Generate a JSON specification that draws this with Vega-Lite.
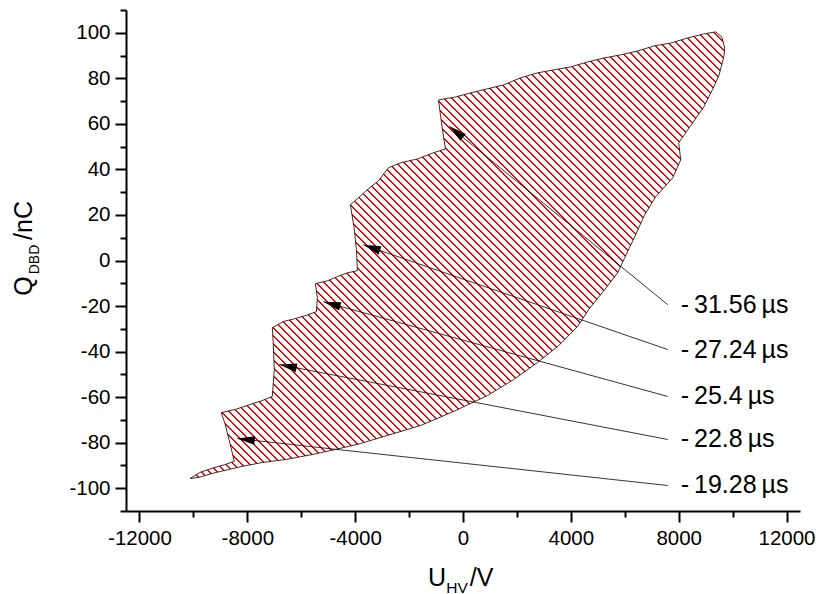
{
"$schema":"https://vega.github.io/schema/vega-lite/v6.json",
"width":674,"height":501,
"autosize":{"type":"none"},
"padding":{"left":126,"top":10,"right":16,"bottom":83},
"background":"white",
"config":{"view":{"stroke":null}},
"datasets":{
"loop":[
{"i":1,"u":-10118,"q":-95.7},{"i":2,"u":-9747,"q":-93.0},{"i":3,"u":-9301,"q":-91.2},{"i":4,"u":-8818,"q":-89.6},{"i":5,"u":-8484,"q":-88.2},{"i":6,"u":-8633,"q":-80.8},{"i":7,"u":-8818,"q":-72.0},{"i":8,"u":-8967,"q":-66.8},{"i":9,"u":-8447,"q":-65.4},{"i":10,"u":-7890,"q":-63.2},{"i":11,"u":-7445,"q":-61.5},{"i":12,"u":-7073,"q":-59.7},{"i":13,"u":-6999,"q":-47.9},{"i":14,"u":-7036,"q":-36.9},{"i":15,"u":-7073,"q":-29.5},{"i":16,"u":-6665,"q":-26.8},{"i":17,"u":-6219,"q":-25.5},{"i":18,"u":-5848,"q":-24.2},{"i":19,"u":-5439,"q":-22.5},{"i":20,"u":-5402,"q":-16.3},{"i":21,"u":-5477,"q":-10.2},{"i":22,"u":-5031,"q":-8.9},{"i":23,"u":-4660,"q":-7.1},{"i":24,"u":-4289,"q":-5.4},{"i":25,"u":-3917,"q":-4.5},{"i":26,"u":-3954,"q":4.7},{"i":27,"u":-4029,"q":13.5},{"i":28,"u":-4177,"q":24.5},{"i":29,"u":-3880,"q":27.5},{"i":30,"u":-3546,"q":31.1},{"i":31,"u":-3137,"q":35.0},{"i":32,"u":-2766,"q":40.7},{"i":33,"u":-2321,"q":42.9},{"i":34,"u":-1689,"q":44.6},{"i":35,"u":-1095,"q":47.3},{"i":36,"u":-650,"q":49.0},{"i":37,"u":-761,"q":57.4},{"i":38,"u":-835,"q":63.9},{"i":39,"u":-910,"q":70.5},{"i":40,"u":-278,"q":71.8},{"i":41,"u":278,"q":73.6},{"i":42,"u":910,"q":75.4},{"i":43,"u":1504,"q":77.1},{"i":44,"u":2135,"q":80.2},{"i":45,"u":2766,"q":82.4},{"i":46,"u":3360,"q":83.7},{"i":47,"u":3991,"q":85.0},{"i":48,"u":4623,"q":87.2},{"i":49,"u":5217,"q":88.9},{"i":50,"u":5848,"q":90.3},{"i":51,"u":6479,"q":92.0},{"i":52,"u":7073,"q":94.2},{"i":53,"u":7704,"q":95.5},{"i":54,"u":8336,"q":97.7},{"i":55,"u":8930,"q":99.5},{"i":56,"u":9375,"q":100.4},{"i":57,"u":9598,"q":98.2},{"i":58,"u":9709,"q":93.3},{"i":59,"u":9672,"q":89.4},{"i":60,"u":9500,"q":81.5},{"i":61,"u":9301,"q":76.2},{"i":62,"u":8930,"q":67.4},{"i":63,"u":8336,"q":57.4},{"i":64,"u":8002,"q":51.7},{"i":65,"u":8076,"q":44.2},{"i":66,"u":7778,"q":36.3},{"i":67,"u":7148,"q":28.0},{"i":68,"u":6739,"q":20.1},{"i":69,"u":6368,"q":10.4},{"i":70,"u":5996,"q":1.2},{"i":71,"u":5737,"q":-5.4},{"i":72,"u":5254,"q":-12.8},{"i":73,"u":4660,"q":-21.6},{"i":74,"u":4251,"q":-29.0},{"i":75,"u":3546,"q":-37.4},{"i":76,"u":2766,"q":-44.8},{"i":77,"u":1875,"q":-52.3},{"i":78,"u":910,"q":-59.3},{"i":79,"u":-353,"q":-66.3},{"i":80,"u":-1578,"q":-72.5},{"i":81,"u":-2803,"q":-76.8},{"i":82,"u":-3806,"q":-80.4},{"i":83,"u":-4734,"q":-83.0},{"i":84,"u":-5588,"q":-85.2},{"i":85,"u":-6591,"q":-87.4},{"i":86,"u":-7445,"q":-88.7},{"i":87,"u":-8187,"q":-90.4},{"i":88,"u":-8707,"q":-91.8},{"i":89,"u":-9301,"q":-93.5},{"i":90,"u":-9821,"q":-95.3}
],
"notes":[
{"t":"-\u200931.56\u2009µs","u0":7593,"q0":-19.4,"u":-501,"q":58.9},
{"t":"-\u200927.24\u2009µs","u0":7593,"q0":-39.1,"u":-3694,"q":6.9},
{"t":"-\u200925.4\u2009µs","u0":7593,"q0":-59.7,"u":-5180,"q":-18.1},
{"t":"-\u200922.8\u2009µs","u0":7593,"q0":-78.6,"u":-6813,"q":-45.7},
{"t":"-\u200919.28\u2009µs","u0":7593,"q0":-98.8,"u":-8373,"q":-78.2}
]
},
"resolve":{"axis":{"x":"independent","y":"independent"}},
"layer":[
{
"data":{"name":"loop"},
"mark":{"type":"line","interpolate":"linear-closed","stroke":"black","strokeWidth":0.8,"strokeJoin":"round",
"fill":{"gradient":"linear","x1":-0.051,"y1":0.9602,"x2":1.051,"y2":0.0398,"stops":[
{"offset":0.002,"color":"#fff"},{"offset":0.0023,"color":"red"},{"offset":0.0041,"color":"red"},{"offset":0.0044,"color":"#fff"},
{"offset":0.010,"color":"#fff"},{"offset":0.0103,"color":"red"},{"offset":0.0121,"color":"red"},{"offset":0.0124,"color":"#fff"},
{"offset":0.018,"color":"#fff"},{"offset":0.0183,"color":"red"},{"offset":0.0201,"color":"red"},{"offset":0.0204,"color":"#fff"},
{"offset":0.026,"color":"#fff"},{"offset":0.0263,"color":"red"},{"offset":0.0281,"color":"red"},{"offset":0.0284,"color":"#fff"},
{"offset":0.034,"color":"#fff"},{"offset":0.0343,"color":"red"},{"offset":0.0361,"color":"red"},{"offset":0.0364,"color":"#fff"},
{"offset":0.042,"color":"#fff"},{"offset":0.0423,"color":"red"},{"offset":0.0441,"color":"red"},{"offset":0.0444,"color":"#fff"},
{"offset":0.050,"color":"#fff"},{"offset":0.0503,"color":"red"},{"offset":0.0521,"color":"red"},{"offset":0.0524,"color":"#fff"},
{"offset":0.058,"color":"#fff"},{"offset":0.0583,"color":"red"},{"offset":0.0601,"color":"red"},{"offset":0.0604,"color":"#fff"},
{"offset":0.066,"color":"#fff"},{"offset":0.0663,"color":"red"},{"offset":0.0681,"color":"red"},{"offset":0.0684,"color":"#fff"},
{"offset":0.074,"color":"#fff"},{"offset":0.0743,"color":"red"},{"offset":0.0761,"color":"red"},{"offset":0.0764,"color":"#fff"},
{"offset":0.082,"color":"#fff"},{"offset":0.0823,"color":"red"},{"offset":0.0841,"color":"red"},{"offset":0.0844,"color":"#fff"},
{"offset":0.090,"color":"#fff"},{"offset":0.0903,"color":"red"},{"offset":0.0921,"color":"red"},{"offset":0.0924,"color":"#fff"},
{"offset":0.098,"color":"#fff"},{"offset":0.0983,"color":"red"},{"offset":0.1001,"color":"red"},{"offset":0.1004,"color":"#fff"},
{"offset":0.106,"color":"#fff"},{"offset":0.1063,"color":"red"},{"offset":0.1081,"color":"red"},{"offset":0.1084,"color":"#fff"},
{"offset":0.114,"color":"#fff"},{"offset":0.1143,"color":"red"},{"offset":0.1161,"color":"red"},{"offset":0.1164,"color":"#fff"},
{"offset":0.122,"color":"#fff"},{"offset":0.1223,"color":"red"},{"offset":0.1241,"color":"red"},{"offset":0.1244,"color":"#fff"},
{"offset":0.130,"color":"#fff"},{"offset":0.1303,"color":"red"},{"offset":0.1321,"color":"red"},{"offset":0.1324,"color":"#fff"},
{"offset":0.138,"color":"#fff"},{"offset":0.1383,"color":"red"},{"offset":0.1401,"color":"red"},{"offset":0.1404,"color":"#fff"},
{"offset":0.146,"color":"#fff"},{"offset":0.1463,"color":"red"},{"offset":0.1481,"color":"red"},{"offset":0.1484,"color":"#fff"},
{"offset":0.154,"color":"#fff"},{"offset":0.1543,"color":"red"},{"offset":0.1561,"color":"red"},{"offset":0.1564,"color":"#fff"},
{"offset":0.162,"color":"#fff"},{"offset":0.1623,"color":"red"},{"offset":0.1641,"color":"red"},{"offset":0.1644,"color":"#fff"},
{"offset":0.170,"color":"#fff"},{"offset":0.1703,"color":"red"},{"offset":0.1721,"color":"red"},{"offset":0.1724,"color":"#fff"},
{"offset":0.178,"color":"#fff"},{"offset":0.1783,"color":"red"},{"offset":0.1801,"color":"red"},{"offset":0.1804,"color":"#fff"},
{"offset":0.186,"color":"#fff"},{"offset":0.1863,"color":"red"},{"offset":0.1881,"color":"red"},{"offset":0.1884,"color":"#fff"},
{"offset":0.194,"color":"#fff"},{"offset":0.1943,"color":"red"},{"offset":0.1961,"color":"red"},{"offset":0.1964,"color":"#fff"},
{"offset":0.202,"color":"#fff"},{"offset":0.2023,"color":"red"},{"offset":0.2041,"color":"red"},{"offset":0.2044,"color":"#fff"},
{"offset":0.210,"color":"#fff"},{"offset":0.2103,"color":"red"},{"offset":0.2121,"color":"red"},{"offset":0.2124,"color":"#fff"},
{"offset":0.218,"color":"#fff"},{"offset":0.2183,"color":"red"},{"offset":0.2201,"color":"red"},{"offset":0.2204,"color":"#fff"},
{"offset":0.226,"color":"#fff"},{"offset":0.2263,"color":"red"},{"offset":0.2281,"color":"red"},{"offset":0.2284,"color":"#fff"},
{"offset":0.234,"color":"#fff"},{"offset":0.2343,"color":"red"},{"offset":0.2361,"color":"red"},{"offset":0.2364,"color":"#fff"},
{"offset":0.242,"color":"#fff"},{"offset":0.2423,"color":"red"},{"offset":0.2441,"color":"red"},{"offset":0.2444,"color":"#fff"},
{"offset":0.250,"color":"#fff"},{"offset":0.2503,"color":"red"},{"offset":0.2521,"color":"red"},{"offset":0.2524,"color":"#fff"},
{"offset":0.258,"color":"#fff"},{"offset":0.2583,"color":"red"},{"offset":0.2601,"color":"red"},{"offset":0.2604,"color":"#fff"},
{"offset":0.266,"color":"#fff"},{"offset":0.2663,"color":"red"},{"offset":0.2681,"color":"red"},{"offset":0.2684,"color":"#fff"},
{"offset":0.274,"color":"#fff"},{"offset":0.2743,"color":"red"},{"offset":0.2761,"color":"red"},{"offset":0.2764,"color":"#fff"},
{"offset":0.282,"color":"#fff"},{"offset":0.2823,"color":"red"},{"offset":0.2841,"color":"red"},{"offset":0.2844,"color":"#fff"},
{"offset":0.290,"color":"#fff"},{"offset":0.2903,"color":"red"},{"offset":0.2921,"color":"red"},{"offset":0.2924,"color":"#fff"},
{"offset":0.298,"color":"#fff"},{"offset":0.2983,"color":"red"},{"offset":0.3001,"color":"red"},{"offset":0.3004,"color":"#fff"},
{"offset":0.306,"color":"#fff"},{"offset":0.3063,"color":"red"},{"offset":0.3081,"color":"red"},{"offset":0.3084,"color":"#fff"},
{"offset":0.314,"color":"#fff"},{"offset":0.3143,"color":"red"},{"offset":0.3161,"color":"red"},{"offset":0.3164,"color":"#fff"},
{"offset":0.322,"color":"#fff"},{"offset":0.3223,"color":"red"},{"offset":0.3241,"color":"red"},{"offset":0.3244,"color":"#fff"},
{"offset":0.330,"color":"#fff"},{"offset":0.3303,"color":"red"},{"offset":0.3321,"color":"red"},{"offset":0.3324,"color":"#fff"},
{"offset":0.338,"color":"#fff"},{"offset":0.3383,"color":"red"},{"offset":0.3401,"color":"red"},{"offset":0.3404,"color":"#fff"},
{"offset":0.346,"color":"#fff"},{"offset":0.3463,"color":"red"},{"offset":0.3481,"color":"red"},{"offset":0.3484,"color":"#fff"},
{"offset":0.354,"color":"#fff"},{"offset":0.3543,"color":"red"},{"offset":0.3561,"color":"red"},{"offset":0.3564,"color":"#fff"},
{"offset":0.362,"color":"#fff"},{"offset":0.3623,"color":"red"},{"offset":0.3641,"color":"red"},{"offset":0.3644,"color":"#fff"},
{"offset":0.370,"color":"#fff"},{"offset":0.3703,"color":"red"},{"offset":0.3721,"color":"red"},{"offset":0.3724,"color":"#fff"},
{"offset":0.378,"color":"#fff"},{"offset":0.3783,"color":"red"},{"offset":0.3801,"color":"red"},{"offset":0.3804,"color":"#fff"},
{"offset":0.386,"color":"#fff"},{"offset":0.3863,"color":"red"},{"offset":0.3881,"color":"red"},{"offset":0.3884,"color":"#fff"},
{"offset":0.394,"color":"#fff"},{"offset":0.3943,"color":"red"},{"offset":0.3961,"color":"red"},{"offset":0.3964,"color":"#fff"},
{"offset":0.402,"color":"#fff"},{"offset":0.4023,"color":"red"},{"offset":0.4041,"color":"red"},{"offset":0.4044,"color":"#fff"},
{"offset":0.410,"color":"#fff"},{"offset":0.4103,"color":"red"},{"offset":0.4121,"color":"red"},{"offset":0.4124,"color":"#fff"},
{"offset":0.418,"color":"#fff"},{"offset":0.4183,"color":"red"},{"offset":0.4201,"color":"red"},{"offset":0.4204,"color":"#fff"},
{"offset":0.426,"color":"#fff"},{"offset":0.4263,"color":"red"},{"offset":0.4281,"color":"red"},{"offset":0.4284,"color":"#fff"},
{"offset":0.434,"color":"#fff"},{"offset":0.4343,"color":"red"},{"offset":0.4361,"color":"red"},{"offset":0.4364,"color":"#fff"},
{"offset":0.442,"color":"#fff"},{"offset":0.4423,"color":"red"},{"offset":0.4441,"color":"red"},{"offset":0.4444,"color":"#fff"},
{"offset":0.450,"color":"#fff"},{"offset":0.4503,"color":"red"},{"offset":0.4521,"color":"red"},{"offset":0.4524,"color":"#fff"},
{"offset":0.458,"color":"#fff"},{"offset":0.4583,"color":"red"},{"offset":0.4601,"color":"red"},{"offset":0.4604,"color":"#fff"},
{"offset":0.466,"color":"#fff"},{"offset":0.4663,"color":"red"},{"offset":0.4681,"color":"red"},{"offset":0.4684,"color":"#fff"},
{"offset":0.474,"color":"#fff"},{"offset":0.4743,"color":"red"},{"offset":0.4761,"color":"red"},{"offset":0.4764,"color":"#fff"},
{"offset":0.482,"color":"#fff"},{"offset":0.4823,"color":"red"},{"offset":0.4841,"color":"red"},{"offset":0.4844,"color":"#fff"},
{"offset":0.490,"color":"#fff"},{"offset":0.4903,"color":"red"},{"offset":0.4921,"color":"red"},{"offset":0.4924,"color":"#fff"},
{"offset":0.498,"color":"#fff"},{"offset":0.4983,"color":"red"},{"offset":0.5001,"color":"red"},{"offset":0.5004,"color":"#fff"},
{"offset":0.506,"color":"#fff"},{"offset":0.5063,"color":"red"},{"offset":0.5081,"color":"red"},{"offset":0.5084,"color":"#fff"},
{"offset":0.514,"color":"#fff"},{"offset":0.5143,"color":"red"},{"offset":0.5161,"color":"red"},{"offset":0.5164,"color":"#fff"},
{"offset":0.522,"color":"#fff"},{"offset":0.5223,"color":"red"},{"offset":0.5241,"color":"red"},{"offset":0.5244,"color":"#fff"},
{"offset":0.530,"color":"#fff"},{"offset":0.5303,"color":"red"},{"offset":0.5321,"color":"red"},{"offset":0.5324,"color":"#fff"},
{"offset":0.538,"color":"#fff"},{"offset":0.5383,"color":"red"},{"offset":0.5401,"color":"red"},{"offset":0.5404,"color":"#fff"},
{"offset":0.546,"color":"#fff"},{"offset":0.5463,"color":"red"},{"offset":0.5481,"color":"red"},{"offset":0.5484,"color":"#fff"},
{"offset":0.554,"color":"#fff"},{"offset":0.5543,"color":"red"},{"offset":0.5561,"color":"red"},{"offset":0.5564,"color":"#fff"},
{"offset":0.562,"color":"#fff"},{"offset":0.5623,"color":"red"},{"offset":0.5641,"color":"red"},{"offset":0.5644,"color":"#fff"},
{"offset":0.570,"color":"#fff"},{"offset":0.5703,"color":"red"},{"offset":0.5721,"color":"red"},{"offset":0.5724,"color":"#fff"},
{"offset":0.578,"color":"#fff"},{"offset":0.5783,"color":"red"},{"offset":0.5801,"color":"red"},{"offset":0.5804,"color":"#fff"},
{"offset":0.586,"color":"#fff"},{"offset":0.5863,"color":"red"},{"offset":0.5881,"color":"red"},{"offset":0.5884,"color":"#fff"},
{"offset":0.594,"color":"#fff"},{"offset":0.5943,"color":"red"},{"offset":0.5961,"color":"red"},{"offset":0.5964,"color":"#fff"},
{"offset":0.602,"color":"#fff"},{"offset":0.6023,"color":"red"},{"offset":0.6041,"color":"red"},{"offset":0.6044,"color":"#fff"},
{"offset":0.610,"color":"#fff"},{"offset":0.6103,"color":"red"},{"offset":0.6121,"color":"red"},{"offset":0.6124,"color":"#fff"},
{"offset":0.618,"color":"#fff"},{"offset":0.6183,"color":"red"},{"offset":0.6201,"color":"red"},{"offset":0.6204,"color":"#fff"},
{"offset":0.626,"color":"#fff"},{"offset":0.6263,"color":"red"},{"offset":0.6281,"color":"red"},{"offset":0.6284,"color":"#fff"},
{"offset":0.634,"color":"#fff"},{"offset":0.6343,"color":"red"},{"offset":0.6361,"color":"red"},{"offset":0.6364,"color":"#fff"},
{"offset":0.642,"color":"#fff"},{"offset":0.6423,"color":"red"},{"offset":0.6441,"color":"red"},{"offset":0.6444,"color":"#fff"},
{"offset":0.650,"color":"#fff"},{"offset":0.6503,"color":"red"},{"offset":0.6521,"color":"red"},{"offset":0.6524,"color":"#fff"},
{"offset":0.658,"color":"#fff"},{"offset":0.6583,"color":"red"},{"offset":0.6601,"color":"red"},{"offset":0.6604,"color":"#fff"},
{"offset":0.666,"color":"#fff"},{"offset":0.6663,"color":"red"},{"offset":0.6681,"color":"red"},{"offset":0.6684,"color":"#fff"},
{"offset":0.674,"color":"#fff"},{"offset":0.6743,"color":"red"},{"offset":0.6761,"color":"red"},{"offset":0.6764,"color":"#fff"},
{"offset":0.682,"color":"#fff"},{"offset":0.6823,"color":"red"},{"offset":0.6841,"color":"red"},{"offset":0.6844,"color":"#fff"},
{"offset":0.690,"color":"#fff"},{"offset":0.6903,"color":"red"},{"offset":0.6921,"color":"red"},{"offset":0.6924,"color":"#fff"},
{"offset":0.698,"color":"#fff"},{"offset":0.6983,"color":"red"},{"offset":0.7001,"color":"red"},{"offset":0.7004,"color":"#fff"},
{"offset":0.706,"color":"#fff"},{"offset":0.7063,"color":"red"},{"offset":0.7081,"color":"red"},{"offset":0.7084,"color":"#fff"},
{"offset":0.714,"color":"#fff"},{"offset":0.7143,"color":"red"},{"offset":0.7161,"color":"red"},{"offset":0.7164,"color":"#fff"},
{"offset":0.722,"color":"#fff"},{"offset":0.7223,"color":"red"},{"offset":0.7241,"color":"red"},{"offset":0.7244,"color":"#fff"},
{"offset":0.730,"color":"#fff"},{"offset":0.7303,"color":"red"},{"offset":0.7321,"color":"red"},{"offset":0.7324,"color":"#fff"},
{"offset":0.738,"color":"#fff"},{"offset":0.7383,"color":"red"},{"offset":0.7401,"color":"red"},{"offset":0.7404,"color":"#fff"},
{"offset":0.746,"color":"#fff"},{"offset":0.7463,"color":"red"},{"offset":0.7481,"color":"red"},{"offset":0.7484,"color":"#fff"},
{"offset":0.754,"color":"#fff"},{"offset":0.7543,"color":"red"},{"offset":0.7561,"color":"red"},{"offset":0.7564,"color":"#fff"},
{"offset":0.762,"color":"#fff"},{"offset":0.7623,"color":"red"},{"offset":0.7641,"color":"red"},{"offset":0.7644,"color":"#fff"},
{"offset":0.770,"color":"#fff"},{"offset":0.7703,"color":"red"},{"offset":0.7721,"color":"red"},{"offset":0.7724,"color":"#fff"},
{"offset":0.778,"color":"#fff"},{"offset":0.7783,"color":"red"},{"offset":0.7801,"color":"red"},{"offset":0.7804,"color":"#fff"},
{"offset":0.786,"color":"#fff"},{"offset":0.7863,"color":"red"},{"offset":0.7881,"color":"red"},{"offset":0.7884,"color":"#fff"},
{"offset":0.794,"color":"#fff"},{"offset":0.7943,"color":"red"},{"offset":0.7961,"color":"red"},{"offset":0.7964,"color":"#fff"},
{"offset":0.802,"color":"#fff"},{"offset":0.8023,"color":"red"},{"offset":0.8041,"color":"red"},{"offset":0.8044,"color":"#fff"},
{"offset":0.810,"color":"#fff"},{"offset":0.8103,"color":"red"},{"offset":0.8121,"color":"red"},{"offset":0.8124,"color":"#fff"},
{"offset":0.818,"color":"#fff"},{"offset":0.8183,"color":"red"},{"offset":0.8201,"color":"red"},{"offset":0.8204,"color":"#fff"},
{"offset":0.826,"color":"#fff"},{"offset":0.8263,"color":"red"},{"offset":0.8281,"color":"red"},{"offset":0.8284,"color":"#fff"},
{"offset":0.834,"color":"#fff"},{"offset":0.8343,"color":"red"},{"offset":0.8361,"color":"red"},{"offset":0.8364,"color":"#fff"},
{"offset":0.842,"color":"#fff"},{"offset":0.8423,"color":"red"},{"offset":0.8441,"color":"red"},{"offset":0.8444,"color":"#fff"},
{"offset":0.850,"color":"#fff"},{"offset":0.8503,"color":"red"},{"offset":0.8521,"color":"red"},{"offset":0.8524,"color":"#fff"},
{"offset":0.858,"color":"#fff"},{"offset":0.8583,"color":"red"},{"offset":0.8601,"color":"red"},{"offset":0.8604,"color":"#fff"},
{"offset":0.866,"color":"#fff"},{"offset":0.8663,"color":"red"},{"offset":0.8681,"color":"red"},{"offset":0.8684,"color":"#fff"},
{"offset":0.874,"color":"#fff"},{"offset":0.8743,"color":"red"},{"offset":0.8761,"color":"red"},{"offset":0.8764,"color":"#fff"},
{"offset":0.882,"color":"#fff"},{"offset":0.8823,"color":"red"},{"offset":0.8841,"color":"red"},{"offset":0.8844,"color":"#fff"},
{"offset":0.890,"color":"#fff"},{"offset":0.8903,"color":"red"},{"offset":0.8921,"color":"red"},{"offset":0.8924,"color":"#fff"},
{"offset":0.898,"color":"#fff"},{"offset":0.8983,"color":"red"},{"offset":0.9001,"color":"red"},{"offset":0.9004,"color":"#fff"},
{"offset":0.906,"color":"#fff"},{"offset":0.9063,"color":"red"},{"offset":0.9081,"color":"red"},{"offset":0.9084,"color":"#fff"},
{"offset":0.914,"color":"#fff"},{"offset":0.9143,"color":"red"},{"offset":0.9161,"color":"red"},{"offset":0.9164,"color":"#fff"},
{"offset":0.922,"color":"#fff"},{"offset":0.9223,"color":"red"},{"offset":0.9241,"color":"red"},{"offset":0.9244,"color":"#fff"},
{"offset":0.930,"color":"#fff"},{"offset":0.9303,"color":"red"},{"offset":0.9321,"color":"red"},{"offset":0.9324,"color":"#fff"},
{"offset":0.938,"color":"#fff"},{"offset":0.9383,"color":"red"},{"offset":0.9401,"color":"red"},{"offset":0.9404,"color":"#fff"},
{"offset":0.946,"color":"#fff"},{"offset":0.9463,"color":"red"},{"offset":0.9481,"color":"red"},{"offset":0.9484,"color":"#fff"},
{"offset":0.954,"color":"#fff"},{"offset":0.9543,"color":"red"},{"offset":0.9561,"color":"red"},{"offset":0.9564,"color":"#fff"},
{"offset":0.962,"color":"#fff"},{"offset":0.9623,"color":"red"},{"offset":0.9641,"color":"red"},{"offset":0.9644,"color":"#fff"},
{"offset":0.970,"color":"#fff"},{"offset":0.9703,"color":"red"},{"offset":0.9721,"color":"red"},{"offset":0.9724,"color":"#fff"},
{"offset":0.978,"color":"#fff"},{"offset":0.9783,"color":"red"},{"offset":0.9801,"color":"red"},{"offset":0.9804,"color":"#fff"},
{"offset":0.986,"color":"#fff"},{"offset":0.9863,"color":"red"},{"offset":0.9881,"color":"red"},{"offset":0.9884,"color":"#fff"},
{"offset":0.994,"color":"#fff"},{"offset":0.9943,"color":"red"},{"offset":0.9961,"color":"red"},{"offset":0.9964,"color":"#fff"}
]}},
"encoding":{
"x":{"field":"u","type":"quantitative","scale":{"domain":[-12500,12500],"nice":false,"zero":false},
"axis":{"orient":"bottom","values":[-12000,-10000,-8000,-6000,-4000,-2000,0,2000,4000,6000,8000,10000,12000],
"labelExpr":"datum.value % 4000 == 0 ? toString(datum.value) : ''",
"tickSize":{"condition":{"test":"datum.value % 4000 != 0","value":6},"value":11},
"grid":false,"domainColor":"black","domainWidth":2,"tickColor":"black","tickWidth":2,
"labelFont":"Liberation Sans","labelFontSize":20.5,"labelColor":"black","labelPadding":6,"labelFlush":false,"labelOverlap":false,
"title":"U","titleFont":"Liberation Sans","titleFontSize":25,"titleFontWeight":"normal","titleColor":"black",
"titleX":310.5,"titleY":74,"titleAlign":"center","titleBaseline":"alphabetic","titleAngle":0}},
"y":{"field":"q","type":"quantitative","scale":{"domain":[-110,110],"nice":false,"zero":false},
"axis":{"orient":"left","values":[-110,-100,-90,-80,-70,-60,-50,-40,-30,-20,-10,0,10,20,30,40,50,60,70,80,90,100,110],
"labelExpr":"datum.value % 20 == 0 ? toString(datum.value) : ''",
"tickSize":{"condition":{"test":"datum.value % 20 != 0","value":6},"value":11},
"grid":false,"domainColor":"black","domainWidth":2,"tickColor":"black","tickWidth":2,
"labelFont":"Liberation Sans","labelFontSize":20.5,"labelColor":"black","labelPadding":5,"labelOverlap":false,
"title":"Q","titleFont":"Liberation Sans","titleFontSize":25,"titleFontWeight":"normal","titleColor":"black",
"titleX":-95,"titleY":275.5,"titleAlign":"center","titleBaseline":"alphabetic","titleAngle":270}},
"order":{"field":"i","type":"quantitative"}
}
},
{
"data":{"name":"notes"},
"mark":{"type":"rule","color":"black","strokeWidth":0.8},
"encoding":{
"x":{"field":"u0","type":"quantitative","axis":{"orient":"top","domain":false,"ticks":false,"labels":false,"grid":false,
"title":"HV","titleFont":"Liberation Sans","titleFontSize":15.5,"titleFontWeight":"normal","titleColor":"black",
"titleX":330.5,"titleY":582,"titleAlign":"center","titleBaseline":"alphabetic","titleAngle":0}},
"x2":{"field":"u"},
"y":{"field":"q0","type":"quantitative","axis":{"orient":"right","domain":false,"ticks":false,"labels":false,"grid":false,
"title":"DBD","titleFont":"Liberation Sans","titleFontSize":14,"titleFontWeight":"normal","titleColor":"black",
"titleX":-762,"titleY":249,"titleAlign":"center","titleBaseline":"alphabetic","titleAngle":270}},
"y2":{"field":"q"}
}
},
{
"data":{"name":"notes"},
"mark":{"type":"point","shape":"M0,0L0.4,1.6L-0.4,1.6Z","filled":true,"color":"black","opacity":1,"size":480,"strokeWidth":0,
"angle":{"expr":"atan2(scale('x', datum.u) - scale('x', datum.u0), scale('y', datum.q0) - scale('y', datum.q)) * 180 / PI"}},
"encoding":{
"x":{"field":"u","type":"quantitative","axis":{"orient":"top","domain":false,"ticks":false,"labels":false,"grid":false,
"title":"/V","titleFont":"Liberation Sans","titleFontSize":25,"titleFontWeight":"normal","titleColor":"black",
"titleX":355,"titleY":575,"titleAlign":"center","titleBaseline":"alphabetic","titleAngle":0}},
"y":{"field":"q","type":"quantitative","axis":{"orient":"right","domain":false,"ticks":false,"labels":false,"grid":false,
"title":"/nC","titleFont":"Liberation Sans","titleFontSize":25,"titleFontWeight":"normal","titleColor":"black",
"titleX":-769,"titleY":210,"titleAlign":"center","titleBaseline":"alphabetic","titleAngle":270}}
}
},
{
"data":{"name":"notes"},
"mark":{"type":"text","align":"left","baseline":"middle","dx":13,"dy":0,"font":"Liberation Sans","fontSize":25,"color":"black"},
"encoding":{
"x":{"field":"u0","type":"quantitative","axis":null},
"y":{"field":"q0","type":"quantitative","axis":null},
"text":{"field":"t"}
}
}
]
}
